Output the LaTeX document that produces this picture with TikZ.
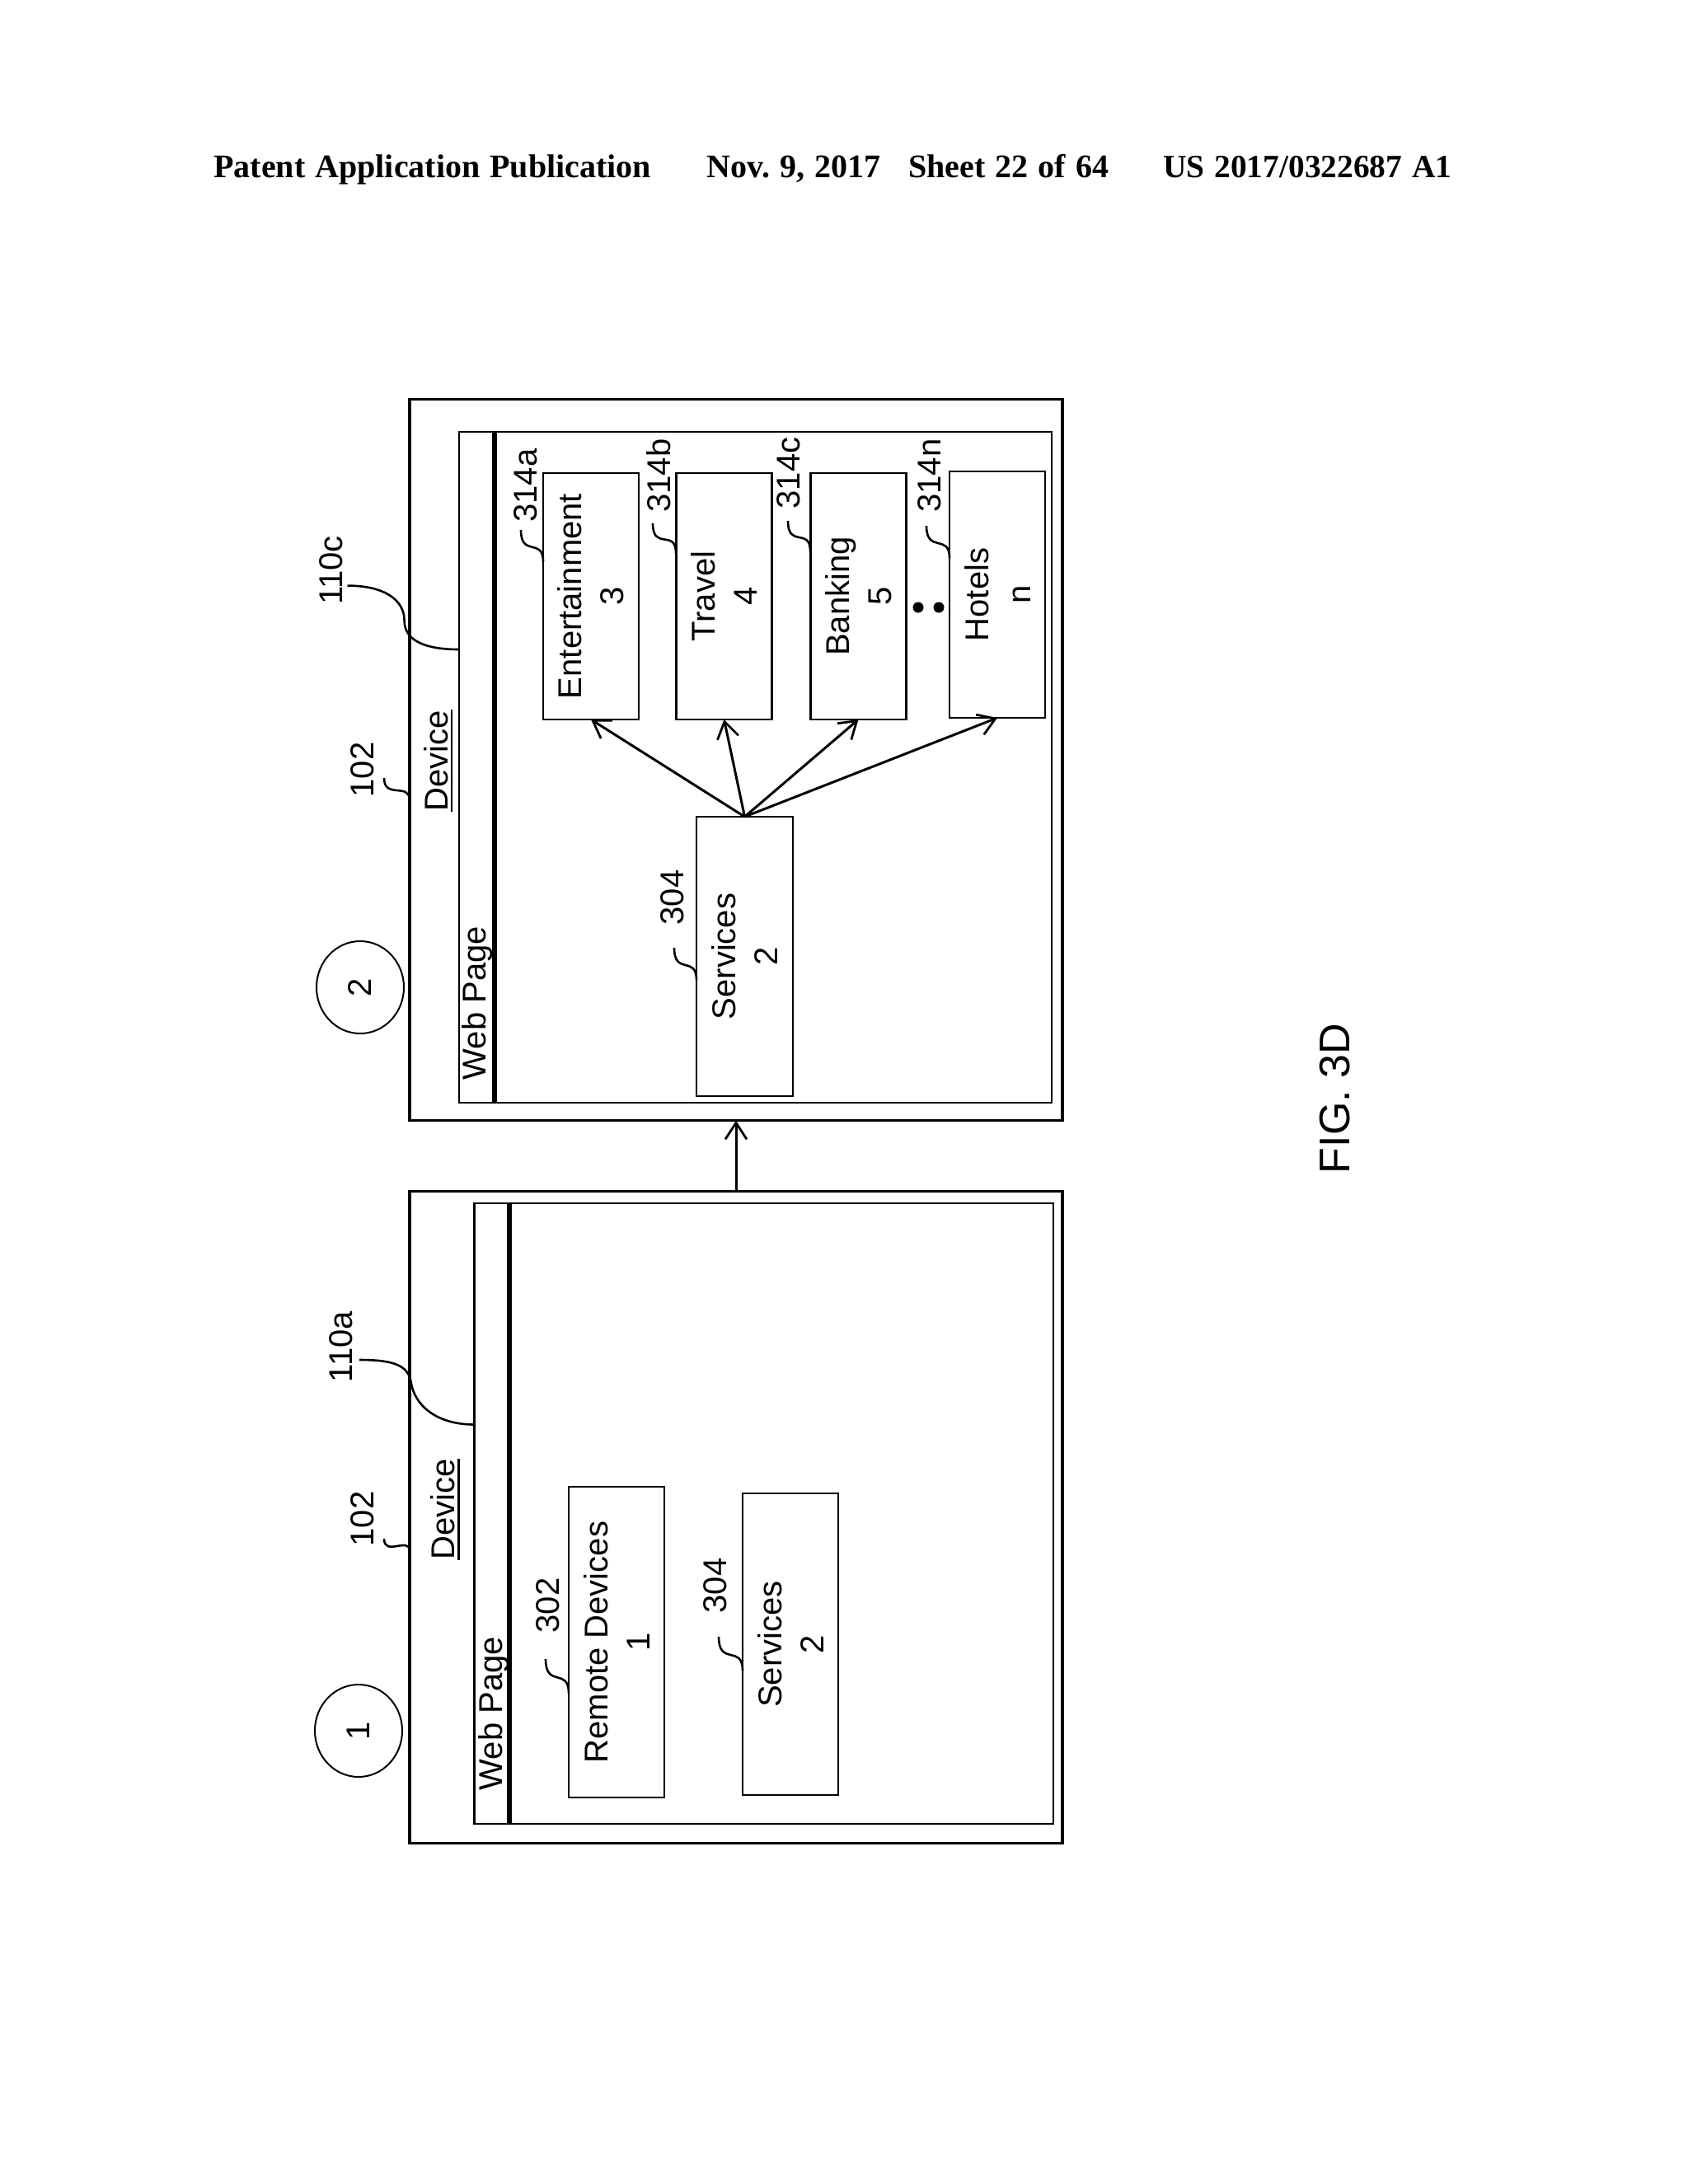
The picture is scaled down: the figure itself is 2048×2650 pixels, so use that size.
\documentclass[tikz,border=0pt]{standalone}
\usepackage{fontspec}
\setmainfont{Liberation Sans}
\newfontfamily\hdrfont{Liberation Serif}[BoldFont={Liberation Serif Bold},WordSpace=1.2]
\usetikzlibrary{arrows.meta,shapes.geometric}
\tikzset{
  panel/.style={draw,line width=1.6pt,inner sep=0pt,outer sep=0pt},
  webbox/.style={draw,line width=1.2pt,inner sep=0pt,outer sep=0pt},
  item/.style={draw,line width=1.2pt,inner sep=0pt,outer sep=0pt,rotate=90,align=center,font=\fontsize{20}{25.5}\selectfont},
  rtext/.style={rotate=90,inner sep=0pt,font=\fontsize{20}{23}\selectfont},
  stepcircle/.style={ellipse,draw,line width=1pt,inner sep=0pt,rotate=90,font=\fontsize{20}{23}\selectfont},
  bar/.style={line width=2.8pt},
  leader/.style={line width=1.3pt},
  underrule/.style={line width=1.1pt},
  conn/.style={line width=1.5pt,-{Straight Barb[length=10pt,width=13pt,line width=1.4pt]}},
  hdr/.style={anchor=base west,inner sep=0pt,font=\hdrfont\bfseries\fontsize{20}{23}\selectfont\frenchspacing},
  dotmark/.style={circle,fill,inner sep=0pt,minimum size=6.5pt}
}
\begin{document}
\begin{tikzpicture}[x=0.5pt,y=-0.5pt]
\useasboundingbox (0,0) rectangle (2048,2650);
% header
\node[hdr] (h1) at (259,215) {Patent Application Publication};
\node[hdr] (h2) at (857,215) {Nov. 9, 2017};
\node[hdr] (h3) at (1102,215) {Sheet 22 of 64};
\node[hdr,font=\hdrfont\bfseries\fontsize{19.7}{23}\selectfont\frenchspacing] (h4) at (1411,215) {US 2017/0322687 A1};
% top panel (step 2)
\node[panel,minimum width=396pt,minimum height=437.75pt] (dev2) at (893,922) {};
\node[webbox,minimum width=359.5pt,minimum height=407pt] (web2) at (916.5,931) {};
\coordinate (bar2a) at (600,524); \coordinate (bar2b) at (600,1338);
\draw[bar] (bar2a) -- (bar2b);
\node[stepcircle,minimum width=56pt,minimum height=53pt] (c2) at (437,1198) {2};
\node[rtext] (l110c) at (402,692) {110c};
\node[rtext] (l102b) at (440,934) {102};
\node[rtext] (tdev2) at (529,923) {Device};
\draw[underrule] ([xshift=2pt]tdev2.south west) -- ([xshift=2pt]tdev2.south east);
\node[rtext] (tweb2) at (579,1217) {Web Page};
\node[item,minimum width=149.5pt,minimum height=58pt] (ent) at (717,723.5) {Entertainment\\3};
\node[item,minimum width=149.5pt,minimum height=58pt] (trav) at (878.5,723.5) {Travel\\4};
\node[item,minimum width=149.5pt,minimum height=58pt] (bank) at (1041.5,723.5) {Banking\\5};
\node[item,minimum width=149.5pt,minimum height=58pt] (hot) at (1210,721.5) {Hotels\\n};
\node[item,minimum width=169.5pt,minimum height=58.5pt] (svc2) at (903.5,1160.5) {Services\\2};
\node[rtext] (l304b) at (815.5,1089) {304};
\node[rtext] (l314a) at (638,589) {314a};
\node[rtext] (l314b) at (799,577) {314b};
\node[rtext] (l314c) at (957,574) {314c};
\node[rtext] (l314n) at (1128,577) {314n};
\node[dotmark] (d1) at (1114,737) {};
\node[dotmark] (d2) at (1139,737) {};
\draw[conn] (svc2.east) -- (ent.west);
\draw[conn] (svc2.east) -- (trav.west);
\draw[conn] (svc2.east) -- (bank.west);
\draw[conn] (svc2.east) -- (hot.west);
% bottom panel (step 1)
\node[panel,minimum width=396pt,minimum height=395.25pt] (dev1) at (893,1841) {};
\node[webbox,minimum width=351.25pt,minimum height=376.5pt] (web1) at (926.75,1836.7) {};
\coordinate (bar1a) at (618,1460); \coordinate (bar1b) at (618,2213);
\draw[bar] (bar1a) -- (bar1b);
\node[stepcircle,minimum width=56pt,minimum height=53pt] (c1) at (435,2100) {1};
\node[rtext] (l110a) at (414,1634) {110a};
\node[rtext] (l102a) at (440,1843) {102};
\node[rtext] (tdev1) at (537.5,1831.5) {Device};
\draw[underrule] ([xshift=2pt]tdev1.south west) -- ([xshift=2pt]tdev1.south east);
\node[rtext] (tweb1) at (599,2079) {Web Page};
\node[item,minimum width=188.5pt,minimum height=58pt] (rem) at (748,1992.5) {Remote Devices\\1};
\node[item,minimum width=183pt,minimum height=58pt] (svc1) at (959,1995) {Services\\2};
\node[rtext] (l302) at (665,1948) {302};
\node[rtext] (l304a) at (868,1924) {304};
\draw[conn] (dev1.north) -- (dev2.south);
% fig label
\node[rtext,font=\fontsize{26}{30}\selectfont] (fig) at (1620,1333) {FIG. 3D};
% leaders
\coordinate (a110c) at (421.5,710.6); \coordinate (m110c) at (490.6,753); \coordinate (b110c) at (web2.west |- 0,788);
\draw[leader] (a110c) .. controls +(45,0) and +(0,-25) .. (m110c) .. controls +(0,25) and +(-40,0) .. (b110c);
\coordinate (a110a) at (436,1650); \coordinate (m110a) at (498.5,1676); \coordinate (b110a) at (web1.west |- 0,1728.5);
\draw[leader] (a110a) .. controls +(40,0) and +(-4,-20) .. (m110a) .. controls +(4,30) and +(-45,0) .. (b110a);
\coordinate (a102b) at (466,944); \coordinate (b102b) at (dev2.west |- 0,971);
\draw[leader] (a102b) .. controls +(0,26) and +(0,-22) .. (b102b);
\coordinate (a102a) at (466,1867); \coordinate (b102a) at (dev1.west |- 0,1882);
\draw[leader] (a102a) .. controls +(0,22) and +(0,-18) .. (b102a);
\coordinate (a314a) at (632,643); \coordinate (b314a) at (659,681.5);
\draw[leader] (a314a) .. controls +(0,34) and +(0,-30) .. (b314a);
\coordinate (a314b) at (792,635); \coordinate (b314b) at (820,671);
\draw[leader] (a314b) .. controls +(0,34) and +(0,-30) .. (b314b);
\coordinate (a314c) at (956,632); \coordinate (b314c) at (983,669);
\draw[leader] (a314c) .. controls +(0,34) and +(0,-30) .. (b314c);
\coordinate (a314n) at (1124,638); \coordinate (b314n) at (1152,677);
\draw[leader] (a314n) .. controls +(0,34) and +(0,-30) .. (b314n);
\coordinate (a304b) at (818,1150); \coordinate (b304b) at (845,1189);
\draw[leader] (a304b) .. controls +(0,34) and +(0,-30) .. (b304b);
\coordinate (a302) at (662,2013); \coordinate (b302) at (690,2054.5);
\draw[leader] (a302) .. controls +(0,36) and +(0,-32) .. (b302);
\coordinate (a304a) at (872,1986); \coordinate (b304a) at (901,2027);
\draw[leader] (a304a) .. controls +(0,36) and +(0,-32) .. (b304a);
\end{tikzpicture}
\end{document}
